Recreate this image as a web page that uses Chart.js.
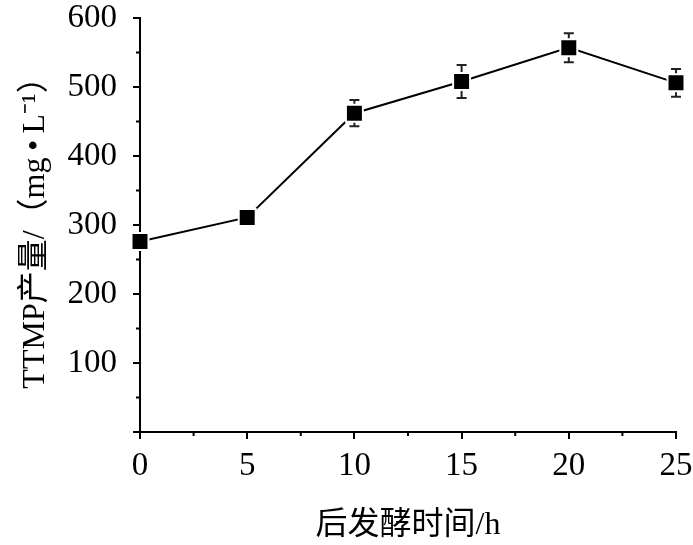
<!DOCTYPE html>
<html>
<head>
<meta charset="utf-8">
<script src="https://cdn.jsdelivr.net/npm/chart.js@4.4.1/dist/chart.umd.min.js"></script>
<style>
  html, body { margin: 0; padding: 0; background: #fff; }
  #wrap { width: 693px; height: 545px; }
</style>
</head>
<body>
<div id="wrap"><canvas id="c" width="693" height="545"></canvas></div>
<script>
// Data
const timeH = [0, 5, 10, 15, 20, 25];
const ttmpYield = [276, 311, 462, 508, 557, 506];
const ttmpError = [6, 10, 19, 24, 21, 20];
const xTickValues = [0, 5, 10, 15, 20, 25];
const yTickValues = [100, 200, 300, 400, 500, 600];
const xMinorTicks = [2.5, 7.5, 12.5, 17.5, 22.5];
const yMinorTicks = [50, 150, 250, 350, 450, 550];
const xTitle = '后发酵时间/h';
const yTitle = 'TTMP产量/（mg\u2009•\u2009L⁻¹）';

const points = timeH.map((t, i) => ({ x: t, y: ttmpYield[i] }));

const serif = "'Liberation Serif', 'Times New Roman', 'Noto Sans CJK SC', serif";

const errorBarPlugin = {
  id: 'errorBars',
  beforeDatasetsDraw(chart) {
    const ctx = chart.ctx;
    const xs = chart.scales.x, ys = chart.scales.y;
    ctx.save();
    ctx.strokeStyle = '#222';
    ctx.lineWidth = 2;
    timeH.forEach((t, i) => {
      const px = xs.getPixelForValue(t);
      const top = ys.getPixelForValue(ttmpYield[i] + ttmpError[i]);
      const bot = ys.getPixelForValue(ttmpYield[i] - ttmpError[i]);
      ctx.beginPath();
      ctx.moveTo(px, top); ctx.lineTo(px, bot);
      ctx.moveTo(px - 5, top); ctx.lineTo(px + 5, top);
      ctx.moveTo(px - 5, bot); ctx.lineTo(px + 5, bot);
      ctx.stroke();
    });
    ctx.restore();
  }
};

const minorTickPlugin = {
  id: 'minorTicks',
  afterDraw(chart) {
    const ctx = chart.ctx;
    const xs = chart.scales.x, ys = chart.scales.y;
    const area = chart.chartArea;
    ctx.save();
    ctx.strokeStyle = '#000';
    ctx.lineWidth = 2;
    ctx.beginPath();
    xMinorTicks.forEach(v => {
      const px = xs.getPixelForValue(v);
      ctx.moveTo(px, area.bottom);
      ctx.lineTo(px, area.bottom + 4);
    });
    yMinorTicks.forEach(v => {
      const py = ys.getPixelForValue(v);
      ctx.moveTo(area.left, py);
      ctx.lineTo(area.left - 4, py);
    });
    ctx.stroke();
    ctx.restore();
  }
};

new Chart(document.getElementById('c'), {
  type: 'scatter',
  data: {
    datasets: [{
      data: points,
      showLine: true,
      borderColor: '#000',
      borderWidth: 2,
      pointStyle: 'rect',
      pointRadius: 12,
      pointHoverRadius: 12,
      pointBackgroundColor: '#000',
      pointBorderColor: '#fff',
      pointBorderWidth: 2,
      clip: false
    }]
  },
  options: {
    responsive: false,
    animation: false,
    devicePixelRatio: 1,
    layout: { padding: { left: 16, top: 18, right: 17, bottom: 0 } },
    plugins: { legend: { display: false }, tooltip: { enabled: false } },
    scales: {
      x: {
        type: 'linear',
        min: 0, max: 25,
        afterBuildTicks(scale) { scale.ticks = xTickValues.map(v => ({ value: v })); },
        afterFit(scale) { scale.height = 113; scale.paddingLeft = 0; scale.paddingRight = 0; },
        border: { display: true, color: '#000', width: 2 },
        grid: { drawOnChartArea: false, drawTicks: true, tickLength: 7, color: '#000', lineWidth: 2 },
        ticks: { color: '#000', font: { family: serif, size: 33 }, padding: 8, maxRotation: 0 },
        title: { display: true, text: xTitle, color: '#000', font: { family: serif, size: 32 }, padding: { top: 4, bottom: 0 } }
      },
      y: {
        min: 0, max: 600,
        afterBuildTicks(scale) { scale.ticks = [0].concat(yTickValues).map(v => ({ value: v })); },
        afterFit(scale) { scale.width = 124; scale.paddingTop = 0; scale.paddingBottom = 0; },
        border: { display: true, color: '#000', width: 2 },
        grid: { drawOnChartArea: false, drawTicks: true, tickLength: 7, color: '#000', lineWidth: 2 },
        ticks: { color: '#000', font: { family: serif, size: 33 }, padding: 16, callback: v => (v === 0 ? '' : v) },
        title: { display: true, text: yTitle, color: '#000', font: { family: serif, size: 32 }, padding: { top: 0, bottom: 4 } }
      }
    }
  },
  plugins: [errorBarPlugin, minorTickPlugin]
});
</script>
</body>
</html>
